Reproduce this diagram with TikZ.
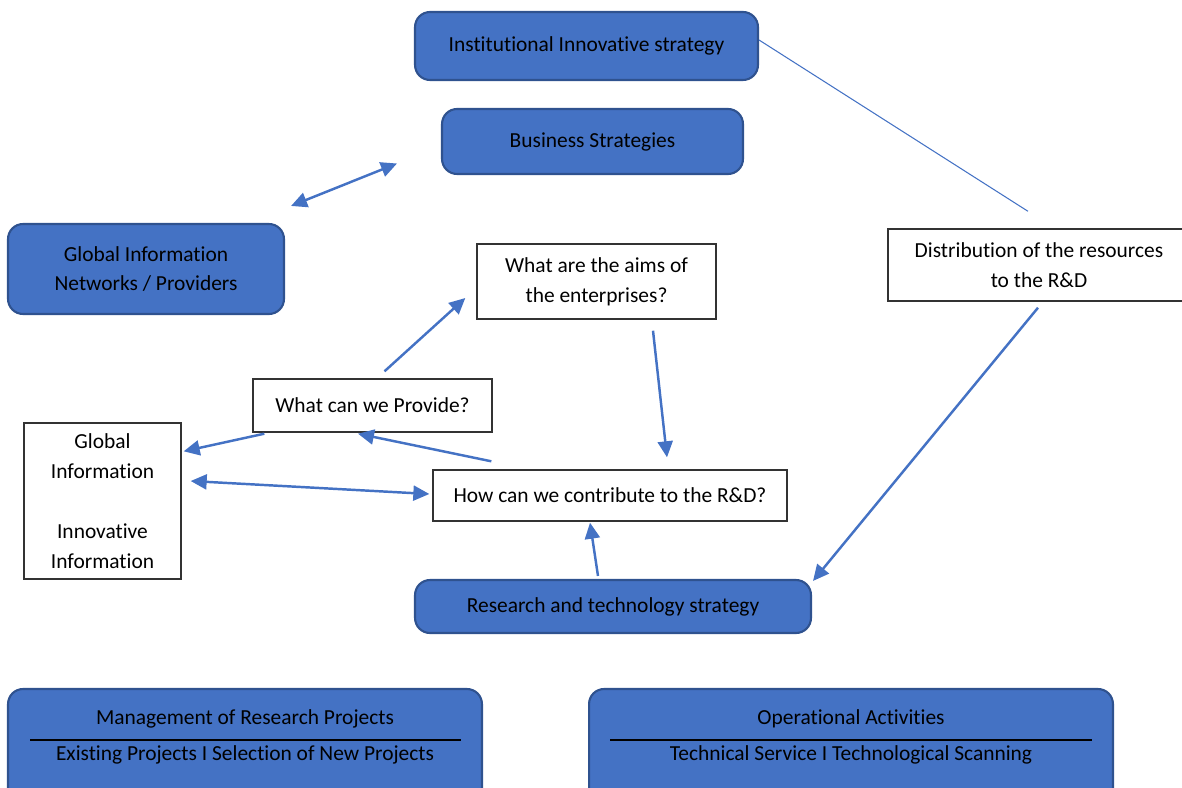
\documentclass[tikz,border=0pt]{standalone}
\usepackage{fontspec}
\setmainfont{Carlito}[Ligatures=NoCommon]
\usetikzlibrary{arrows.meta}
\definecolor{boxblue}{HTML}{4472C4}
\definecolor{boxedge}{HTML}{2F528F}
\begin{document}
\begin{tikzpicture}[x=0.02cm, y=-0.02cm,
            every node/.style = {font=\fontsize{12.2}{17}\selectfont, align=center, inner sep=0pt},
            bluebox/.style = {draw=boxedge, fill=boxblue, line width=1.2pt, rounded corners=0.3cm},
            whitebox/.style = {draw=black!80, fill=white, line width=0.8pt},
            link/.style = {draw=boxblue, line width=1.4pt, -{Triangle[length=0.32cm, width=0.3cm]}},
            twoway/.style = {link, {Triangle[length=0.32cm, width=0.3cm]}-{Triangle[length=0.32cm, width=0.3cm]}},
            thinlink/.style = {draw=boxblue, line width=0.6pt},
            sepline/.style = {draw=black, line width=1.6pt}]
\clip (0,0) rectangle (1182,787);

\node[bluebox, minimum width=6.86cm, minimum height=1.36cm] (inst) at (586.5,46) {Institutional Innovative strategy};
\node[bluebox, minimum width=6.02cm, minimum height=1.3cm] (bus) at (592.5,141.5) {Business Strategies};
\node[bluebox, minimum width=5.52cm, minimum height=1.8cm] (glob) at (146,269) {Global Information\\Networks / Providers};
\node[whitebox, minimum width=4.78cm, minimum height=1.5cm] (aims) at (596.5,281.5) {What are the aims of\\the enterprises?};
\node[whitebox, minimum width=6.04cm, minimum height=1.44cm] (dist) at (1039,265) {Distribution of the resources\\to the R\&D};
\node[whitebox, minimum width=4.78cm, minimum height=1.06cm] (prov) at (372.5,405.5) {What can we Provide?};
\node[whitebox, minimum width=3.14cm, minimum height=3.12cm] (ginfo) at (102.5,501) {Global\\Information\\[17pt]Innovative\\Information};
\node[whitebox, minimum width=7.08cm, minimum height=1.02cm] (how) at (610,495.5) {How can we contribute to the R\&D?};
\node[bluebox, minimum width=7.92cm, minimum height=1.06cm] (rts) at (613,606.5) {Research and technology strategy};

% bottom boxes
\node[bluebox, minimum width=9.48cm, minimum height=2.3cm] (mrp) at (245,746.5) {};
\node (mrptop) at (245,719) {Management of Research Projects};
\node (mrpbot) at (245,755) {Existing Projects I Selection of New Projects};
\draw[sepline] (30,740) -- (461,740);
\node[bluebox, minimum width=10.48cm, minimum height=2.3cm] (ops) at (851,746.5) {};
\node (opstop) at (851,719) {Operational Activities};
\node (opsbot) at (851,755) {Technical Service I Technological Scanning};
\draw[sepline] (610,740) -- (1092,740);

% connectors
\draw[twoway] ([shift={(6,-17)}]glob.north east) -- ([shift={(-44,22)}]bus.west);
\draw[thinlink] ([shift={(0,-6)}]inst.east) -- ([shift={(-11,-17)}]dist.north);
\draw[link] ([shift={(-1,6)}]dist.south) -- ([shift={(1,2)}]rts.north east);
\draw[link] ([shift={(12,-7)}]prov.north) -- ([shift={(-11,16.5)}]aims.west);
\draw[link] ([shift={(56.5,11)}]aims.south) -- ([shift={(57,-12)}]how.north);
\draw[link] ([shift={(12,1)}]prov.south west) -- ([shift={(2,29)}]ginfo.north east);
\draw[link] ([shift={(59,-8)}]how.north west) -- ([shift={(-14.5,1)}]prov.south);
\draw[twoway] ([shift={(9,-20)}]ginfo.east) -- ([shift={(-3,-1.5)}]how.west);
\draw[link] ([shift={(-15,-3)}]rts.north) -- ([shift={(-20,1)}]how.south);

\end{tikzpicture}
\end{document}
